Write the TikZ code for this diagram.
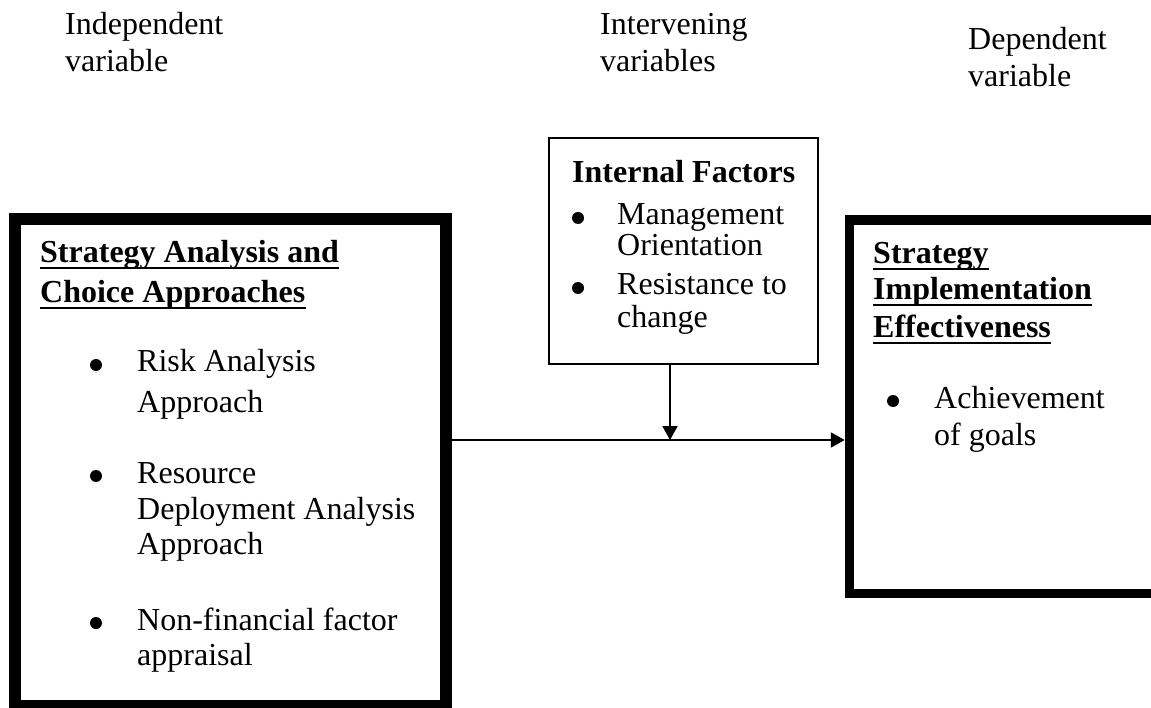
\documentclass[tikz,border=0pt]{standalone}
\usepackage{fontspec}
\setmainfont{Liberation Serif}
\usetikzlibrary{arrows.meta}
\begin{document}
\begin{tikzpicture}[x=1pt,y=-1pt,
  txt/.style={anchor=base west, inner sep=0pt, font=\fontsize{32}{37}\selectfont},
  hd/.style={txt, font=\fontsize{32}{37}\selectfont\bfseries},
  heavybox/.style={draw, line width=12pt},
  midbox/.style={draw, line width=1.8pt},
  dot/.style={circle, fill, minimum size=12pt, inner sep=0pt},
  ul/.style={line width=2.5pt},
  conn/.style={line width=2pt, -{Triangle[length=14pt,width=15pt]}}
]
\useasboundingbox (0,0) rectangle (1151,708);

% column captions
\node[txt] (c1a) at (65,35) {Independent};
\node[txt] (c1b) at (65,72) {variable};
\node[txt] (c2a) at (600,35) {Intervening};
\node[txt] (c2b) at (600,72) {variables};
\node[txt] (c3a) at (968,50) {Dependent};
\node[txt] (c3b) at (968,87) {variable};

% boxes
\node[heavybox, minimum width=430.5pt, minimum height=487pt] (L) at (230.25,462.5) {};
\node[heavybox, line width=9.5pt, minimum width=310.5pt, minimum height=373.5pt] (R) at (1004.75,406.75) {};
\node[midbox, minimum width=269pt, minimum height=226pt] (M) at (683.5,251) {};

% independent variable box
\node[hd] (l1) at (40,263) {Strategy Analysis and};
\node[hd] (l2) at (40,303) {Choice Approaches};
\draw[ul] ([yshift=-5pt]l1.base west) -- ([yshift=-5pt]l1.base east);
\draw[ul] ([yshift=-5pt]l2.base west) -- ([yshift=-5pt]l2.base east);
\node[dot] (lb1) at (96,365) {};
\node[txt] (l3) at (137,372) {Risk Analysis};
\node[txt] (l4) at (137,413) {Approach};
\node[dot] (lb2) at (96,476) {};
\node[txt] (l5) at (137,483) {Resource};
\node[txt] (l6) at (137,519) {Deployment Analysis};
\node[txt] (l7) at (137,554) {Approach};
\node[dot] (lb3) at (96,623) {};
\node[txt] (l8) at (137,630) {Non-financial factor};
\node[txt] (l9) at (137,665) {appraisal};

% intervening variables box
\node[hd] (m1) at (572,183) {Internal Factors};
\node[dot] (mb1) at (578,218) {};
\node[txt] (m2) at (617,225) {Management};
\node[txt] (m3) at (617,256) {Orientation};
\node[dot] (mb2) at (578,288) {};
\node[txt] (m4) at (617,295) {Resistance to};
\node[txt] (m5) at (617,328) {change};

% dependent variable box
\node[hd] (r1) at (873,264) {Strategy};
\node[hd] (r2) at (873,300) {Implementation};
\node[hd] (r3) at (873,338) {Effectiveness};
\foreach \n in {r1,r2,r3}
  \draw[ul] ([yshift=-5pt]\n.base west) -- ([yshift=-5pt]\n.base east);
\node[dot] (rb1) at (893,401) {};
\node[txt] (r4) at (934,408) {Achievement};
\node[txt] (r5) at (934,445) {of goals};

% connectors
\coordinate (j) at (670,440);
\draw[conn] (M.south -| j) -- (j);
\draw[conn] (L.east |- j) -- (R.west |- j);
\end{tikzpicture}
\end{document}
